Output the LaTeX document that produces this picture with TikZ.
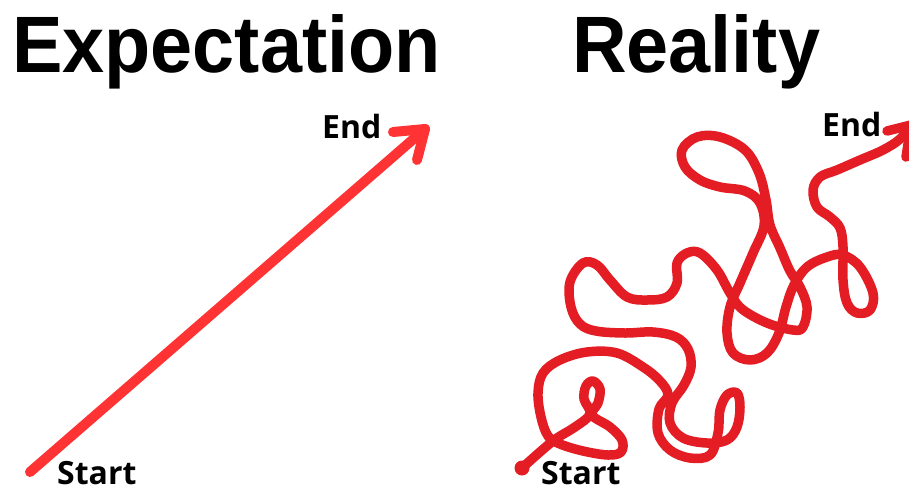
\documentclass[tikz,border=0pt]{standalone}
\usepackage{fontspec}
\setmainfont{Liberation Sans}
\newfontfamily\labelfont{Open Sans}
\definecolor{arrowred}{RGB}{255,51,51}
\definecolor{wigglered}{RGB}{228,28,36}
\begin{document}
\begin{tikzpicture}[x = 1pt, y = -1pt, line cap = round, line join = round,
	heading/.style = {anchor = base west, inner sep = 0pt, font = \fontsize{80}{80}\selectfont\bfseries},
	pointtext/.style = {anchor = base west, inner sep = 0pt, font = \labelfont\fontsize{32}{32}\selectfont\bfseries},
	straight/.style = {arrowred, line width = 10pt},
	wiggle/.style = {wigglered, line width = 9.5pt}]
	\useasboundingbox (0,0) rectangle (909,490);
	\clip (0,0) rectangle (909,490);
	\node [heading] (expect) at (12,72) {\scalebox{0.945}[1]{Expectation}};
	\node [heading] (reality) at (572,72) {\scalebox{0.945}[1]{Reality}};
	\node [pointtext] (start1) at (57,484) {Start};
	\node [pointtext] (end1) at (322,138) {End};
	\node [pointtext] (start2) at (541,484) {Start};
	\node [pointtext] (end2) at (822,136) {End};
	\coordinate (s1) at (30,472);
	\coordinate (e1) at (425,129);
	\coordinate (e1l) at (393,132);
	\coordinate (e1d) at (417,160);
	\draw [straight] (s1) -- (e1);
	\draw [straight] (e1l) -- (e1) -- (e1d);
	\coordinate (s2) at (522,468);
	\coordinate (e2) at (911,125);
	\coordinate (e2l) at (887,131);
	\coordinate (e2d) at (906,157);
	\fill [wigglered] (s2) circle (7.5);
	\draw [wiggle] plot [smooth, tension = 0.6] coordinates {
		(522,468) (553,441) (575,427) (590,414) (584,399) (586,386) (593,381) (600,389)
		(598,403) (592,415) (610,427) (622,440) (621,452) (608,455) (583,451) (560,444)
		(548,436) (541,417) (538,393) (543,373) (560,360) (587,352) (617,353) (643,367)
		(660,381) (668,395) (659,409) (658,433) (670,450) (690,458) (710,455) (718,433)
		(720,410) (727,395) (737,393) (740,407) (737,427) (727,440) (707,443) (683,438)
		(670,423) (672,403) (684,385) (691,367) (688,349) (676,337) (653,332) (625,333)
		(596,331) (580,324) (571,307) (570,282) (583,263) (597,265) (610,280) (627,297)
		(647,300) (667,297) (677,283) (677,263) (687,253) (700,253) (717,270) (730,293)
		(742,309) (767,323) (793,330) (803,327) (807,307) (800,287) (790,271) (780,248)
		(770,225) (766,200) (759,173) (745,150) (720,137) (697,137) (682,150) (685,167)
		(700,180) (720,187) (745,191) (760,203) (764,226) (753,253) (740,283) (730,307)
		(727,333) (733,353) (750,360) (767,353) (779,333) (786,307) (794,285) (807,267)
		(827,257) (843,255) (860,267) (873,293) (870,310) (857,313) (847,303) (843,280)
		(843,247) (840,228) (830,217) (817,207) (813,190) (820,177) (837,170) (860,160)
		(883,150) (900,139) (911,125)};
	\draw [wiggle] (e2l) -- (e2) -- (e2d);
\end{tikzpicture}
\end{document}
